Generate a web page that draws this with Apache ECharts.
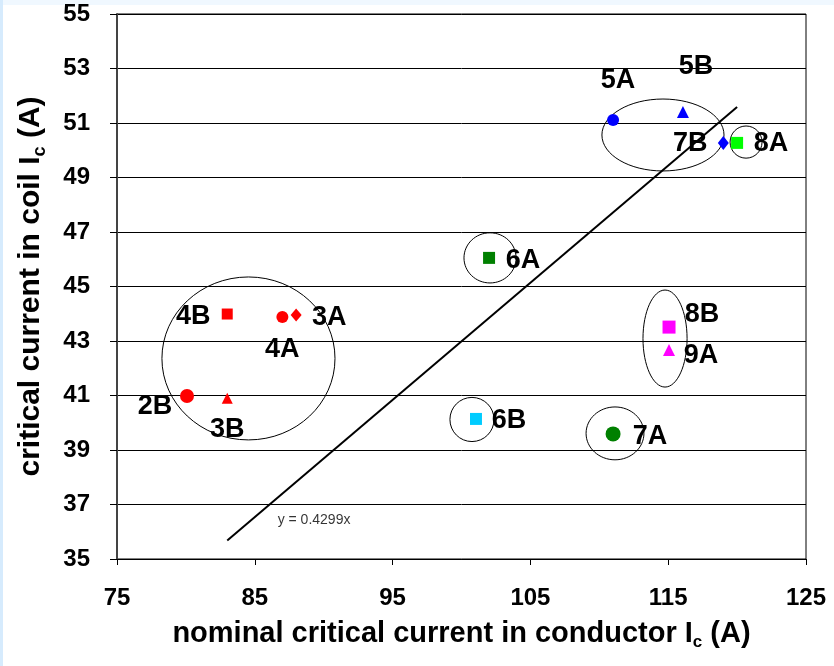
<!DOCTYPE html>
<html><head><meta charset="utf-8">
<script src="https://cdn.jsdelivr.net/npm/echarts@6/dist/echarts.min.js"></script>
<style>
html,body{margin:0;padding:0;width:834px;height:666px;overflow:hidden;background:#fff;}
#strip-top{position:absolute;left:0;top:0;width:834px;height:5px;background:#f0f8ff;}
#strip-left{position:absolute;left:0;top:0;width:3px;height:666px;background:#d6ebfd;}
#chart{position:absolute;left:0;top:0;width:834px;height:666px;}
</style></head><body>
<div id="strip-top"></div><div id="strip-left"></div>
<div id="chart"></div>
<script>
// axis ranges and tick labels
const X_MIN = 75, X_MAX = 125, X_STEP = 10;
const Y_MIN = 35, Y_MAX = 55, Y_STEP = 2;
const xTickLabels = ['75', '85', '95', '105', '115', '125'];
const yTickLabels = ['35', '37', '39', '41', '43', '45', '47', '49', '51', '53', '55'];

// measured points
const pointNames = ['5A', '5B', '7B', '8A', '6A', '4B', '4A', '3A', '2B', '3B', '8B', '9A', '6B', '7A'];
const pointX = [111.0, 116.07, 119.0, 120.0, 102.0, 83.0, 87.0, 88.0, 80.08, 83.0, 115.06, 115.06, 101.05, 111.0];
const pointY = [51.11, 51.4, 50.27, 50.27, 46.05, 43.99, 43.88, 43.95, 40.98, 40.9, 43.51, 42.67, 40.14, 39.59];

// grouping ellipses (centre and half-axes in data units)
const ellipseCx = [84.54, 114.62, 120.65, 102.07, 100.76, 114.77, 111.14];
const ellipseCy = [42.36, 50.56, 50.30, 46.05, 40.12, 43.09, 39.61];
const ellipseRx = [6.28, 4.43, 1.16, 1.89, 1.60, 1.60, 2.10];
const ellipseRy = [2.99, 1.32, 0.59, 0.92, 0.81, 1.78, 0.97];

// trend line y = 0.4299x
const trendX = [83, 120];
const trendY = [35.68, 51.59];
const trendLabel = 'y = 0.4299x';
const trendLabelX = 89.3, trendLabelY = 36.43;

const FONT = "'Liberation Sans', Arial, sans-serif";

const markerStyle = {
  '5A': {symbol: 'circle', size: 12, color: '#0000ff', off: [5, -39]},
  '5B': {symbol: 'triangle', size: 12, color: '#0000ff', off: [13, -46]},
  '7B': {symbol: 'diamond', size: [11, 14], color: '#0000ff', off: [-33, 1]},
  '8A': {symbol: 'rect', size: 12, color: '#00ff00', off: [34, 1]},
  '6A': {symbol: 'rect', size: 12, color: '#008000', off: [34, 3]},
  '4B': {symbol: 'rect', size: 11, color: '#ff0000', off: [-34, 3]},
  '4A': {symbol: 'circle', size: 12, color: '#ff0000', off: [0, 33]},
  '3A': {symbol: 'diamond', size: [11, 13], color: '#ff0000', off: [33, 2]},
  '2B': {symbol: 'circle', size: 14, color: '#ff0000', off: [-32, 11]},
  '3B': {symbol: 'triangle', size: 11, color: '#ff0000', off: [0, 31]},
  '8B': {symbol: 'rect', size: 13, color: '#ff00ff', off: [33, -13]},
  '9A': {symbol: 'triangle', size: 12, color: '#ff00ff', off: [32, 6]},
  '6B': {symbol: 'rect', size: 12, color: '#00ccff', off: [33, 2]},
  '7A': {symbol: 'circle', size: 15, color: '#008000', off: [37, 3]}
};

const pointData = pointNames.map((n, i) => {
  const s = markerStyle[n];
  return {
    name: n,
    value: [pointX[i] - X_MIN, pointY[i] - Y_MIN],
    symbol: s.symbol,
    symbolSize: s.size,
    itemStyle: {color: s.color, opacity: 1},
    label: {offset: s.off}
  };
});

const ellipseData = ellipseCx.map((c, i) => [c - X_MIN, ellipseCy[i] - Y_MIN, ellipseRx[i], ellipseRy[i]]);
const trendData = trendX.map((x, i) => [x - X_MIN, trendY[i] - Y_MIN]);

const richTitle = (size) => ({
  a: {fontSize: size, fontWeight: 'bold', color: '#000', fontFamily: FONT, lineHeight: size + 6, verticalAlign: 'middle'},
  s: {fontSize: Math.round(size * 0.6), fontWeight: 'bold', color: '#000', fontFamily: FONT, lineHeight: Math.round(size * 0.6), verticalAlign: 'bottom'}
});

const chart = echarts.init(document.getElementById('chart'), null, {renderer: 'canvas'});
chart.setOption({
  animation: false,
  backgroundColor: 'transparent',
  textStyle: {fontFamily: FONT},
  grid: {left: 117, right: 28, top: 14, bottom: 107, show: true, borderColor: '#000', borderWidth: 1, backgroundColor: '#fff'},
  xAxis: {
    type: 'value', min: 0, max: X_MAX - X_MIN, interval: X_STEP,
    axisLine: {show: true, onZero: false, lineStyle: {color: '#000', width: 1}},
    axisTick: {show: true, inside: false, length: 6, lineStyle: {color: '#000'}},
    splitLine: {show: false},
    axisLabel: {margin: 27, fontSize: 24, fontWeight: 'bold', color: '#000', fontFamily: FONT,
      formatter: v => xTickLabels[Math.round(v / X_STEP)]},
    name: '{a|nominal critical current in conductor I}{s|c}{a| (A)}',
    nameLocation: 'middle', nameGap: 57,
    nameTextStyle: {rich: richTitle(29)}
  },
  yAxis: {
    type: 'value', min: 0, max: Y_MAX - Y_MIN, interval: Y_STEP,
    axisLine: {show: true, onZero: false, lineStyle: {color: '#444', width: 2}},
    axisTick: {show: true, inside: false, length: 7, lineStyle: {color: '#000'}},
    splitLine: {show: true, lineStyle: {color: '#000', width: 1}},
    axisLabel: {margin: 27, fontSize: 24, fontWeight: 'bold', color: '#000', fontFamily: FONT,
      formatter: v => yTickLabels[Math.round(v / Y_STEP)]},
    name: '{a|critical current in coil I}{s|c}{a| (A)}',
    nameLocation: 'middle', nameGap: 68,
    nameTextStyle: {rich: richTitle(30)}
  },
  series: [
    {
      type: 'custom',
      silent: true,
      z: 2,
      data: ellipseData,
      renderItem: function (params, api) {
        const c = api.coord([api.value(0), api.value(1)]);
        const s = api.size([api.value(2), api.value(3)]);
        return {
          type: 'ellipse',
          shape: {cx: c[0], cy: c[1], rx: s[0], ry: s[1]},
          style: {fill: 'none', stroke: '#000', lineWidth: 1}
        };
      }
    },
    {
      type: 'line',
      silent: true,
      z: 3,
      data: trendData,
      symbol: 'none',
      lineStyle: {color: '#000', width: 2}
    },
    {
      type: 'scatter',
      z: 4,
      data: pointData,
      itemStyle: {opacity: 1},
      emphasis: {disabled: true},
      label: {show: true, position: 'inside', formatter: '{b}', fontSize: 27, fontWeight: 'bold', color: '#000', opacity: 1, fontFamily: FONT}
    },
    {
      type: 'scatter',
      z: 4,
      silent: true,
      data: [{name: trendLabel, value: [trendLabelX - X_MIN, trendLabelY - Y_MIN]}],
      symbolSize: 1,
      itemStyle: {color: 'rgba(0,0,0,0)'},
      label: {show: true, position: 'inside', formatter: '{b}', fontSize: 14, color: '#000', fontFamily: FONT}
    }
  ]
});
</script>
</body></html>
